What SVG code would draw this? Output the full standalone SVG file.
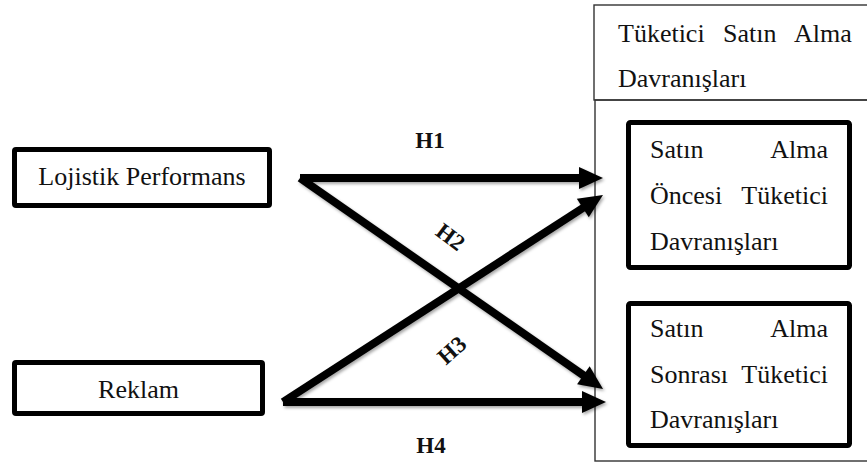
<svg xmlns="http://www.w3.org/2000/svg" width="867" height="472" viewBox="0 0 867 472">
<style>
  .t { font-family: "Liberation Serif", "Times New Roman", serif; font-size: 26px; fill: #111; }
  .h { font-family: "Liberation Serif", "Times New Roman", serif; font-size: 23px; font-weight: bold; fill: #111; }
  .box { fill: #fff; stroke: #000; stroke-width: 5; }
  .frame { fill: none; stroke: #333; stroke-width: 1.4; }
  .arrow { stroke: #000; stroke-width: 8; fill: none; marker-end: url(#head); }
</style>
<defs>
  <marker id="head" markerUnits="userSpaceOnUse" markerWidth="24" markerHeight="24" refX="12" refY="11" orient="auto" overflow="visible">
    <path d="M0,0 L24,11 L0,22 z" fill="#000"/>
  </marker>
  <filter id="sh" filterUnits="userSpaceOnUse" x="0" y="0" width="867" height="472">
    <feDropShadow dx="1.5" dy="2" stdDeviation="1.5" flood-color="#000" flood-opacity="0.35"/>
  </filter>
</defs>
<rect width="867" height="472" fill="#fff"/>

<g id="frame-title">
  <rect class="frame" x="594" y="5" width="290" height="95"/>
  <text class="t" x="618" y="42">Tüketici</text>
  <text class="t" x="723" y="42">Satın</text>
  <text class="t" x="794" y="42">Alma</text>
  <text class="t" x="618" y="87">Davranışları</text>
</g>
<g id="frame-body">
  <rect class="frame" x="595" y="100" width="290" height="361"/>
</g>

<g id="connectors" filter="url(#sh)">
  <line class="arrow" x1="300" y1="178" x2="591" y2="178"/>
  <line class="arrow" x1="300" y1="178" x2="593.2" y2="382.1"/>
  <line class="arrow" x1="283" y1="402" x2="592.9" y2="201.5"/>
  <line class="arrow" x1="283" y1="402" x2="594" y2="402"/>
</g>
<g id="labels">
  <text class="h" x="430" y="148" text-anchor="middle">H1</text>
  <text class="h" text-anchor="middle" transform="translate(446,243) rotate(37)">H2</text>
  <text class="h" text-anchor="middle" transform="translate(457,356) rotate(-42)">H3</text>
  <text class="h" x="431" y="453" text-anchor="middle">H4</text>
</g>

<g id="node-lojistik">
  <rect class="box" x="14.5" y="149.5" width="255" height="56" rx="1.5"/>
  <text class="t" x="142" y="185" text-anchor="middle">Lojistik Performans</text>
</g>
<g id="node-reklam">
  <rect class="box" x="14.5" y="362.5" width="248" height="51" rx="1.5"/>
  <text class="t" x="138.5" y="398" text-anchor="middle">Reklam</text>
</g>

<g id="node-oncesi">
  <rect class="box" x="628.5" y="122.5" width="221" height="145" rx="2"/>
  <text class="t" x="650" y="158">Satın</text>
  <text class="t" x="828" y="158" text-anchor="end">Alma</text>
  <text class="t" x="650" y="204">Öncesi</text>
  <text class="t" x="828" y="204" text-anchor="end">Tüketici</text>
  <text class="t" x="650" y="250">Davranışları</text>
</g>
<g id="node-sonrasi">
  <rect class="box" x="628.5" y="303.5" width="221" height="142" rx="2"/>
  <text class="t" x="650" y="337">Satın</text>
  <text class="t" x="828" y="337" text-anchor="end">Alma</text>
  <text class="t" x="650" y="383">Sonrası</text>
  <text class="t" x="828" y="383" text-anchor="end">Tüketici</text>
  <text class="t" x="650" y="428">Davranışları</text>
</g>
</svg>
